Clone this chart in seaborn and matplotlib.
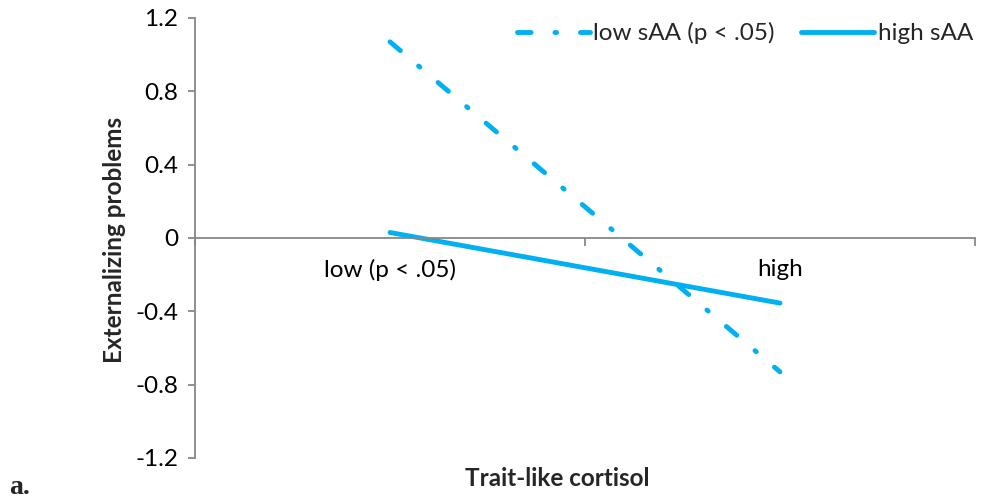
import matplotlib
matplotlib.use("Agg")
import matplotlib.pyplot as plt
import seaborn as sns
import pandas as pd
from matplotlib.ticker import FixedLocator, NullFormatter, FixedFormatter
from matplotlib.lines import Line2D

categories = ["low (p < .05)", "high"]
low_saa = [1.07, -0.73]
high_saa = [0.03, -0.355]
series_names = ["low sAA (p < .05)", "high sAA"]
y_ticks = [-1.2, -0.8, -0.4, 0, 0.4, 0.8, 1.2]
y_tick_labels = ["-1.2", "-0.8", "-0.4", "0", "0.4", "0.8", "1.2"]

df = pd.DataFrame({
    "cat": list(range(len(categories))) * 2,
    "value": low_saa + high_saa,
    "series": [series_names[0]] * len(categories) + [series_names[1]] * len(categories),
})

sns.set_style("white")
plt.rcParams["font.family"] = ["Lato", "DejaVu Sans"]

blue = "#00B0F0"
axis_gray = "#878787"
fs = 17.5
dash_pat = (2.8, 4.9, 0.35, 4.9)
lw = 3.5

fig = plt.figure(figsize=(9.98, 5.01), dpi=100)
ax = fig.add_axes([195 / 998, 1 - 458 / 501, (975 - 195) / 998, (458 - 18) / 501])

sns.lineplot(data=df, x="cat", y="value", hue="series", style="series",
             palette=[blue, blue], dashes=[dash_pat, ""],
             linewidth=lw, ax=ax, legend=False)
for ln in ax.lines:
    ln.set_solid_capstyle("round")
    ln.set_dash_capstyle("round")

ax.set_xlim(-0.5, len(categories) - 0.5)
ax.set_ylim(-1.2, 1.2)

for s in ["top", "right"]:
    ax.spines[s].set_visible(False)
ax.spines["bottom"].set_position(("data", 0))
for s in ["left", "bottom"]:
    ax.spines[s].set_color(axis_gray)
    ax.spines[s].set_linewidth(1.3)

ax.set_yticks(y_ticks)
ax.set_yticklabels(y_tick_labels)
ax.tick_params(axis="y", direction="out", length=5, width=1.3, color=axis_gray,
               labelsize=fs, pad=7, left=True, labelcolor="black")

ax.xaxis.set_major_locator(FixedLocator([-0.5, 0.5, 1.5]))
ax.xaxis.set_major_formatter(NullFormatter())
ax.xaxis.set_minor_locator(FixedLocator(list(range(len(categories)))))
ax.xaxis.set_minor_formatter(FixedFormatter(categories))
ax.tick_params(axis="x", which="major", direction="out", length=6, width=1.3,
               color=axis_gray, bottom=True)
ax.tick_params(axis="x", which="minor", length=0, labelsize=fs, pad=15,
               labelcolor="black")
ax.set_xlabel("")
ax.set_ylabel("")

fig.text(557 / 998, 1 - 478 / 501, "Trait-like cortisol", ha="center", va="center",
         fontsize=fs, fontweight="bold")
fig.text(115 / 998, 1 - 240 / 501, "Externalizing problems", ha="center", va="center",
         rotation=90, fontsize=fs, fontweight="bold")
fig.text(9 / 998, 1 - 494 / 501, "a.", ha="left", va="baseline",
         fontsize=20, fontweight="bold", family=["Liberation Serif", "DejaVu Serif"])

handles = [
    Line2D([], [], color=blue, lw=lw, linestyle=(0, dash_pat), dash_capstyle="round"),
    Line2D([], [], color=blue, lw=lw, solid_capstyle="round"),
]
fig.legend(handles, series_names, loc="center right",
           bbox_to_anchor=(983 / 998, 1 - 33 / 501),
           ncol=2, frameon=False, fontsize=fs, handlelength=3.0, handletextpad=0.15,
           columnspacing=1.1, borderaxespad=0)

fig.savefig("out.png", dpi=100)
